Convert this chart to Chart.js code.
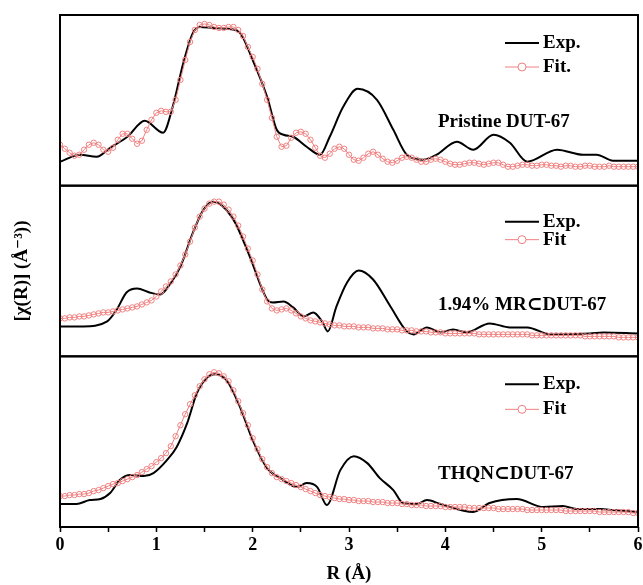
<!DOCTYPE html>
<html>
<head>
<meta charset="utf-8">
<script src="https://cdn.jsdelivr.net/npm/chart.js@4.4.0/dist/chart.umd.min.js"></script>
<style>
  html, body { margin: 0; padding: 0; background: #fff; }
</style>
</head>
<body>
<canvas id="chartExafs" width="643" height="585"></canvas>
<script>
// === Data (|chi(R)|, arbitrary units, each panel 0..17) ===
const fitR = [
  0.00,0.05,0.10,0.15,0.20,0.25,0.30,0.35,0.40,0.45,0.50,0.55,0.60,0.65,0.70,0.75,0.80,0.85,0.90,0.95,
  1.00,1.05,1.10,1.15,1.20,1.25,1.30,1.35,1.40,1.45,1.50,1.55,1.60,1.65,1.70,1.75,1.80,1.85,1.90,1.95,
  2.00,2.05,2.10,2.15,2.20,2.25,2.30,2.35,2.40,2.45,2.50,2.55,2.60,2.65,2.70,2.75,2.80,2.85,2.90,2.95,
  3.00,3.05,3.10,3.15,3.20,3.25,3.30,3.35,3.40,3.45,3.50,3.55,3.60,3.65,3.70,3.75,3.80,3.85,3.90,3.95,
  4.00,4.05,4.10,4.15,4.20,4.25,4.30,4.35,4.40,4.45,4.50,4.55,4.60,4.65,4.70,4.75,4.80,4.85,4.90,4.95,
  5.00,5.05,5.10,5.15,5.20,5.25,5.30,5.35,5.40,5.45,5.50,5.55,5.60,5.65,5.70,5.75,5.80,5.85,5.90,5.95,
  6.00
];

// Pristine DUT-67
const fitTop = [
  4.1,3.7,3.3,3.0,3.1,3.6,4.1,4.3,4.1,3.6,3.4,3.8,4.6,5.2,5.2,4.7,4.2,4.5,5.6,6.6,
  7.3,7.5,7.4,7.4,8.6,10.6,12.6,14.4,15.6,16.1,16.2,16.1,15.9,15.8,15.8,15.9,15.9,15.6,15.0,13.9,
  12.9,11.7,10.2,8.6,6.8,4.9,3.9,4.0,4.8,5.3,5.4,5.2,4.6,3.8,3.0,2.8,3.2,3.7,3.9,3.7,
  3.1,2.6,2.5,2.8,3.2,3.4,3.1,2.7,2.4,2.3,2.5,2.8,2.9,2.8,2.6,2.4,2.4,2.6,2.7,2.6,
  2.4,2.2,2.1,2.1,2.2,2.3,2.3,2.2,2.1,2.2,2.3,2.3,2.1,1.9,1.9,2.0,2.1,2.1,2.0,2.0,
  2.1,2.1,2.0,2.0,1.9,2.0,2.0,1.9,1.9,2.0,2.0,1.9,1.9,1.9,2.0,1.9,1.9,1.9,1.9,1.9,
  1.9
];
const expRTop = [0,0.21,0.38,0.52,0.70,0.88,1.07,1.17,1.28,1.38,1.45,1.60,1.76,1.87,2.00,2.15,2.25,2.32,2.42,2.56,
  2.70,2.80,2.94,3.09,3.29,3.46,3.60,3.77,3.91,4.12,4.29,4.50,4.67,4.85,5.16,5.43,5.57,5.74,6.00];
const expTop = [2.4,3.1,2.9,3.8,4.9,6.5,5.3,7.9,12.3,15.3,15.9,15.8,15.7,15.3,12.6,8.9,5.6,5.1,4.9,3.9,
  3.1,4.9,7.9,9.7,8.6,5.6,3.1,2.6,3.1,4.4,3.6,5.1,4.3,2.4,3.6,3.1,3.1,2.5,2.5];

// 1.94% MR⊂DUT-67
const fitMid = [
  3.8,3.8,3.9,3.9,4.0,4.0,4.1,4.2,4.3,4.4,4.4,4.5,4.6,4.7,4.8,4.9,5.0,5.2,5.4,5.6,
  6.0,6.5,7.0,7.5,8.2,9.1,10.2,11.5,12.9,14.0,14.8,15.3,15.5,15.5,15.2,14.7,14.0,13.1,12.0,10.8,
  9.6,8.2,6.7,5.5,4.8,4.6,4.7,4.8,4.6,4.3,4.0,3.8,3.6,3.5,3.4,3.3,3.2,3.1,3.1,3.0,
  3.0,3.0,2.9,2.9,2.9,2.8,2.8,2.8,2.7,2.7,2.7,2.6,2.6,2.6,2.5,2.5,2.5,2.4,2.4,2.4,
  2.3,2.3,2.3,2.3,2.3,2.3,2.3,2.2,2.2,2.2,2.2,2.2,2.2,2.2,2.2,2.2,2.2,2.2,2.1,2.1,
  2.1,2.1,2.1,2.1,2.1,2.1,2.1,2.1,2.1,2.0,2.0,2.0,2.0,2.0,2.0,2.0,1.9,1.9,1.9,1.9,
  1.9
];
const expRMid = [0,0.24,0.49,0.59,0.69,0.80,0.93,1.04,1.14,1.25,1.38,1.49,1.59,1.80,1.97,2.15,2.21,2.32,2.42,2.53,
  2.63,2.72,2.78,2.87,2.98,3.10,3.25,3.43,3.60,3.67,3.81,3.95,4.08,4.22,4.46,4.67,4.85,5.09,5.50,5.64,6.00];
const expMid = [3.0,3.0,3.5,4.7,6.4,6.8,6.4,6.2,7.2,9.0,12.4,14.7,15.5,13.7,10.0,5.7,5.4,5.5,4.9,4.0,
  4.4,3.5,2.5,5.0,7.4,8.6,7.7,5.0,2.5,2.2,2.9,2.4,2.7,2.4,3.3,2.9,2.9,2.2,2.3,2.4,2.3];

// THQN⊂DUT-67
const fitBot = [
  3.1,3.1,3.2,3.2,3.3,3.3,3.4,3.6,3.7,3.9,4.1,4.3,4.4,4.6,4.8,5.0,5.2,5.5,5.8,6.1,
  6.5,6.9,7.4,8.1,9.1,10.2,11.3,12.3,13.2,14.1,14.8,15.3,15.5,15.4,15.1,14.6,13.7,12.6,11.4,10.2,
  8.9,7.8,6.8,6.0,5.4,5.0,4.8,4.6,4.4,4.2,4.0,3.8,3.6,3.4,3.2,3.1,3.0,2.9,2.8,2.8,
  2.7,2.7,2.6,2.6,2.6,2.5,2.5,2.5,2.4,2.4,2.4,2.3,2.3,2.2,2.2,2.2,2.1,2.1,2.1,2.1,
  2.0,2.0,2.0,2.0,2.0,1.9,1.9,1.9,1.9,1.9,1.9,1.8,1.8,1.8,1.8,1.8,1.8,1.7,1.7,1.7,
  1.7,1.7,1.7,1.7,1.7,1.6,1.6,1.6,1.6,1.6,1.6,1.6,1.5,1.5,1.5,1.5,1.5,1.5,1.5,1.4,
  1.4
];
const expRBot = [0,0.17,0.31,0.42,0.52,0.62,0.73,0.87,0.97,1.11,1.21,1.32,1.42,1.52,1.61,1.73,1.87,2.00,2.15,2.32,
  2.46,2.56,2.67,2.77,2.91,3.05,3.19,3.32,3.46,3.56,3.70,3.81,3.95,4.29,4.46,4.74,5.02,5.22,5.36,5.61,5.74,6.00];
const expBot = [2.3,2.3,2.7,2.8,3.4,4.7,5.2,5.1,5.4,6.7,8.0,10.4,13.4,14.9,15.3,14.7,12.0,8.7,5.9,4.7,
  4.0,4.4,4.0,2.2,5.7,7.1,6.4,4.9,3.7,2.4,2.3,2.7,2.3,1.5,2.4,2.8,2.0,2.1,1.8,1.8,1.7,1.5];

const sampleLabels = ["Pristine DUT-67", "1.94% MR\u2282DUT-67", "THQN\u2282DUT-67"];
const fitLabels = ["Fit.", "Fit", "Fit"];
const xTicks = [0, 1, 2, 3, 4, 5, 6];

// === Styles ===
const serif = "'Liberation Serif', 'Times New Roman', 'DejaVu Serif', serif";
const fitColor = "#f08080";

// legend / label placement, offsets from panel top
const panels = [
  { axis: "yTop", label: sampleLabels[0], fit: fitLabels[0], expY: 28, fitY: 52, labelY: 107 },
  { axis: "yMid", label: sampleLabels[1], fit: fitLabels[1], expY: 36, fitY: 54, labelY: 119 },
  { axis: "yBot", label: sampleLabels[2], fit: fitLabels[2], expY: 28, fitY: 53, labelY: 118 }
];

function toPoints(xs, ys) {
  return xs.map((x, i) => ({ x: x, y: ys[i] }));
}

function expSet(xs, ys, axis) {
  return {
    label: "Exp.", data: toPoints(xs, ys), yAxisID: axis,
    borderColor: "#000", borderWidth: 2, pointRadius: 0,
    cubicInterpolationMode: "monotone", order: 2
  };
}

function fitSet(ys, axis) {
  return {
    label: "Fit", data: toPoints(fitR, ys), yAxisID: axis,
    borderColor: fitColor, borderWidth: 1,
    pointRadius: 2.7, pointBorderWidth: 1, pointBorderColor: fitColor,
    pointBackgroundColor: "rgba(255,255,255,0)", order: 1
  };
}

function panelAxis() {
  return {
    type: "linear", position: "left", stack: "panels", stackWeight: 1,
    min: 0, max: 17.1,
    ticks: { display: false },
    grid: { display: false },
    border: { display: false },
    afterFit: function (scale) { scale.width = 60; }
  };
}

// === Plugin: frames, legends, labels, y title ===
const panelDecor = {
  id: "panelDecor",
  afterDraw(chart) {
    const ctx = chart.ctx;
    const area = chart.chartArea;
    ctx.save();
    ctx.strokeStyle = "#000";
    ctx.lineWidth = 2;
    ctx.fillStyle = "#000";
    ctx.textBaseline = "middle";
    ctx.textAlign = "left";
    ctx.font = "bold 19px " + serif;

    panels.forEach(function (p) {
      const s = chart.scales[p.axis];
      ctx.strokeRect(area.left, s.top, area.right - area.left, s.bottom - s.top);

      // legend: Exp.
      let y = s.top + p.expY;
      ctx.beginPath();
      ctx.lineWidth = 2;
      ctx.strokeStyle = "#000";
      ctx.moveTo(505, y); ctx.lineTo(539, y);
      ctx.stroke();
      ctx.fillText("Exp.", 543, y);

      // legend: Fit
      y = s.top + p.fitY;
      ctx.beginPath();
      ctx.lineWidth = 1;
      ctx.strokeStyle = fitColor;
      ctx.moveTo(505, y); ctx.lineTo(539, y);
      ctx.stroke();
      ctx.beginPath();
      ctx.fillStyle = "#fff";
      ctx.arc(522, y, 4, 0, Math.PI * 2);
      ctx.fill();
      ctx.stroke();
      ctx.fillStyle = "#000";
      ctx.fillText(p.fit, 543, y);

      // sample label
      ctx.fillText(p.label, 438, s.top + p.labelY);

      ctx.strokeStyle = "#000";
      ctx.lineWidth = 2;
    });

    // y axis title
    const mid = chart.scales.yMid;
    ctx.translate(22, (mid.top + mid.bottom) / 2);
    ctx.rotate(-Math.PI / 2);
    ctx.textAlign = "center";
    ctx.fillText("[\u03c7(R)] (\u00c5\u207b\u00b3))", 0, 0);
    ctx.restore();
  }
};

// === Chart ===
const ctx = document.getElementById("chartExafs").getContext("2d");
const chartExafs = new Chart(ctx, {
  type: "line",
  data: {
    datasets: [
      fitSet(fitTop, "yTop"), expSet(expRTop, expTop, "yTop"),
      fitSet(fitMid, "yMid"), expSet(expRMid, expMid, "yMid"),
      fitSet(fitBot, "yBot"), expSet(expRBot, expBot, "yBot")
    ]
  },
  options: {
    responsive: false,
    animation: false,
    layout: { padding: { top: 15, right: 5, left: 0, bottom: 0 } },
    plugins: { legend: { display: false }, tooltip: { enabled: false } },
    scales: {
      x: {
        type: "linear", position: "bottom", min: 0, max: 6,
        ticks: {
          stepSize: 0.5, autoSkip: false, maxRotation: 0, padding: 3,
          color: "#000", font: { family: serif, size: 18, weight: "bold" },
          callback: function (v) {
            const r = Math.round(v);
            return (Math.abs(v - r) < 1e-6 && xTicks.includes(r)) ? String(r) : "";
          }
        },
        grid: { display: true, drawOnChartArea: false, drawTicks: true, tickLength: 5, tickWidth: 1.5, tickColor: "#000" },
        border: { display: false },
        title: {
          display: true, text: "R (\u00c5)", color: "#000",
          font: { family: serif, size: 19, weight: "bold" }, padding: { top: 2, bottom: 0 }
        },
        afterFit: function (scale) {
          scale.height = 58;
          // let the last tick label overhang, like the original
          scale.paddingRight = 0;
          scale.paddingLeft = 0;
        }
      },
      // stacked axes are laid out bottom-up in definition order
      yBot: panelAxis(),
      yMid: panelAxis(),
      yTop: panelAxis()
    }
  },
  plugins: [panelDecor]
});
</script>
</body>
</html>
